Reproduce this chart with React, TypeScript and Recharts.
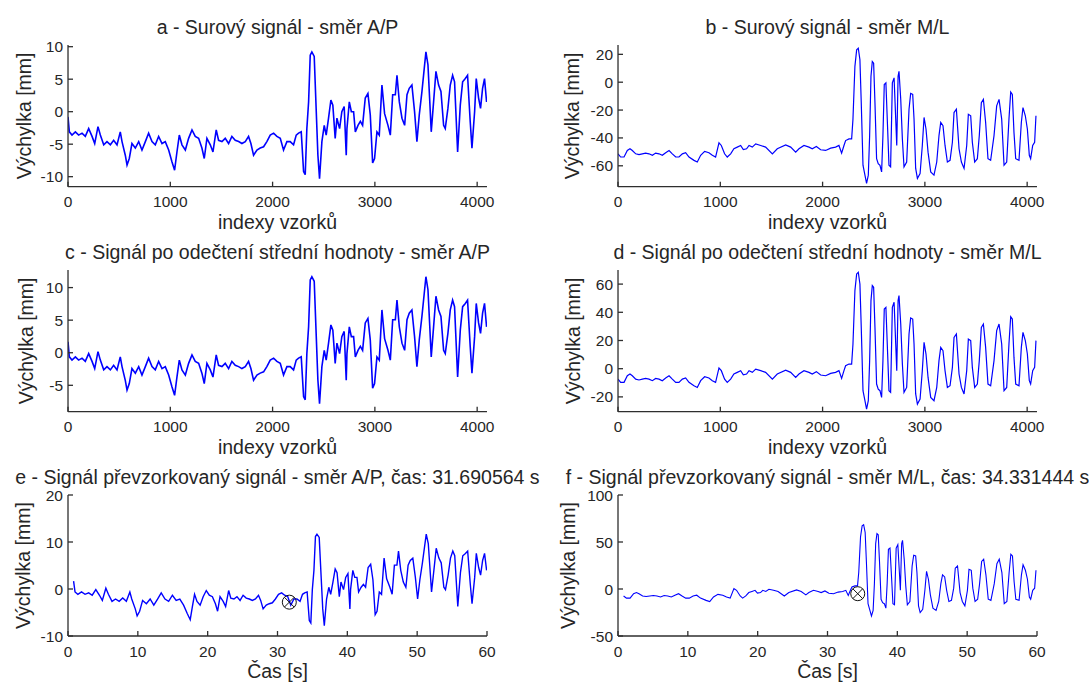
import React from 'react';
import { LineChart, Line, XAxis, YAxis, ReferenceDot } from 'recharts';

// ---- Data (sample index -> displacement, mm) ----
const AP_IDX = [
  0, 13, 39, 72, 104, 137, 169, 202, 235, 261, 293, 316, 349, 381, 414, 446, 479, 511, 528, 560,
  577, 599, 625, 658, 691, 723, 756, 788, 821, 853, 886, 919, 951, 984, 1016, 1042, 1065, 1088, 1114, 1147,
  1179, 1212, 1244, 1277, 1309, 1332, 1358, 1391, 1417, 1449, 1472, 1505, 1537, 1570, 1602, 1635, 1668, 1700, 1733, 1765,
  1788, 1814, 1847, 1879, 1912, 1944, 1977, 2010, 2042, 2075, 2107, 2140, 2172, 2205, 2231, 2254, 2280, 2303, 2319, 2335,
  2352, 2368, 2384, 2407, 2427, 2443, 2459, 2482, 2505, 2524, 2547, 2570, 2589, 2612, 2629, 2655, 2677, 2700, 2720, 2727,
  2750, 2770, 2792, 2809, 2835, 2858, 2880, 2906, 2932, 2955, 2978, 2997, 3020, 3043, 3069, 3095, 3128, 3151, 3174, 3200,
  3216, 3239, 3265, 3291, 3314, 3336, 3362, 3388, 3411, 3434, 3460, 3483, 3499, 3519, 3535, 3551, 3574, 3597, 3623, 3646,
  3672, 3688, 3714, 3737, 3760, 3779, 3796, 3809, 3835, 3858, 3884, 3906, 3932, 3949, 3975, 3991, 4014, 4033, 4053, 4072,
  4092,
];
const AP_RAW = [
  -0.8, -3.1, -3.6, -3.1, -3.6, -3.3, -3.8, -2.6, -3.8, -4.9, -2.3, -3.6, -5.1, -4.6, -5.1, -4.4, -5.1, -3.1, -4.6, -6.7,
  -8.2, -7.2, -4.9, -5.6, -4.6, -5.9, -4.6, -3.3, -4.6, -5.1, -3.8, -4.9, -4.6, -5.9, -7.7, -9.0, -6.2, -3.6, -5.1, -5.9,
  -4.1, -2.8, -3.8, -4.1, -5.6, -7.2, -4.1, -5.1, -6.2, -2.8, -4.4, -4.6, -4.1, -4.9, -3.8, -4.4, -4.6, -4.9, -4.6, -3.8,
  -4.9, -6.7, -5.9, -5.6, -5.4, -4.6, -3.6, -3.3, -3.8, -4.1, -5.9, -4.6, -4.6, -5.1, -3.6, -3.3, -3.1, -9.2, -9.7, -2.6,
  1.5, 8.7, 9.2, 8.5, 0.0, -6.7, -10.3, -4.6, -2.1, -3.6, -1.0, 1.8, 1.0, -4.1, -1.0, -2.6, 0.0, 0.8, -6.7, -2.6,
  1.5, 0.0, 0.0, -3.1, -2.1, -1.5, -2.1, 2.1, 2.8, -0.5, -7.9, -7.2, -3.1, -3.6, 4.1, -0.3, -2.1, -3.6, 2.6, 2.6,
  5.6, 1.5, -1.0, -2.1, 2.6, 3.6, 4.1, 0.0, -4.6, -0.5, 3.1, 6.7, 9.2, 7.2, 2.1, -3.1, 1.5, 6.2, 4.1, 3.1,
  -2.1, -2.6, 0.5, 4.1, 5.6, 4.6, -1.5, -6.2, 1.0, 4.6, 5.1, 5.6, -1.5, -5.6, 0.0, 5.1, 2.1, 0.5, 3.6, 5.1,
  1.5,
];

const ML_IDX = [
  0, 26, 59, 91, 117, 140, 173, 205, 238, 270, 303, 336, 368, 401, 433, 466, 499, 531, 564, 596,
  629, 661, 694, 743, 775, 808, 847, 889, 922, 954, 987, 1010, 1042, 1068, 1101, 1133, 1166, 1199, 1225, 1257,
  1281, 1313, 1346, 1395, 1443, 1509, 1557, 1639, 1688, 1737, 1769, 1818, 1867, 1899, 1939, 1981, 2030, 2079, 2127, 2160,
  2186, 2209, 2225, 2258, 2284, 2297, 2316, 2333, 2349, 2365, 2378, 2395, 2414, 2430, 2447, 2460, 2473, 2486, 2499, 2512,
  2528, 2544, 2561, 2577, 2590, 2603, 2619, 2636, 2649, 2665, 2682, 2699, 2715, 2725, 2738, 2747, 2764, 2780, 2796, 2822,
  2845, 2861, 2881, 2894, 2910, 2927, 2953, 2975, 2992, 3011, 3031, 3057, 3089, 3116, 3138, 3155, 3177, 3197, 3220, 3246,
  3269, 3285, 3308, 3334, 3357, 3383, 3409, 3425, 3448, 3464, 3487, 3513, 3532, 3552, 3572, 3594, 3617, 3643, 3676, 3702,
  3725, 3751, 3774, 3800, 3822, 3839, 3855, 3871, 3888, 3920, 3943, 3959, 3982, 4002, 4021, 4034, 4054, 4073, 4086,
];
const ML_RAW = [
  -51.4, -53.7, -53.7, -49.0, -47.8, -49.0, -51.4, -52.0, -51.4, -50.9, -51.4, -52.5, -50.9, -51.4, -52.5, -50.6, -49.0, -51.4, -53.7, -53.7,
  -51.4, -50.6, -53.7, -56.1, -57.3, -52.5, -49.7, -50.6, -52.5, -53.7, -43.5, -45.4, -51.4, -53.7, -51.4, -47.8, -46.6, -45.4, -48.3, -47.8,
  -45.4, -46.6, -44.3, -45.4, -46.6, -51.4, -47.8, -45.0, -46.6, -50.2, -47.8, -45.4, -46.6, -47.8, -46.1, -48.5, -49.0, -47.3, -46.6, -45.4,
  -50.9, -45.4, -41.9, -40.7, -40.7, -26.5, 11.4, 23.2, 24.4, 16.1, -14.7, -59.6, -66.7, -72.7, -66.7, -38.3, 4.3, 14.9, 13.7, -14.7,
  -54.9, -58.5, -59.6, -64.4, -38.3, -1.7, -0.5, -33.6, -59.6, -60.8, -0.5, 3.1, -26.5, -45.4, 4.3, 7.8, -12.3, -40.7, -60.8, -57.3,
  -19.4, -8.0, -8.8, -26.5, -61.9, -69.1, -65.6, -45.4, -25.3, -33.6, -50.2, -64.4, -66.7, -57.3, -38.3, -28.9, -31.2, -45.4, -57.3, -56.1,
  -43.1, -21.8, -19.4, -47.8, -57.3, -61.9, -45.4, -23.0, -24.1, -43.1, -57.3, -54.9, -38.3, -14.7, -12.3, -28.9, -54.9, -56.1, -38.3, -17.0,
  -12.3, -26.5, -59.6, -57.3, -26.5, -7.1, -8.8, -36.0, -54.9, -56.1, -28.9, -18.2, -24.1, -33.6, -52.5, -54.9, -45.4, -43.1, -24.1,
];

// Means removed in panels c/d (read from the offset between a->c and b->d)
const AP_MEAN = -2.47;
const ML_MEAN = -44.0;

const TIME_ANCHOR_IDX = [0, 577, 1042, 2384, 3499, 4096];
const TIME_ANCHOR_S = [0.8, 9.9, 17.5, 35.65, 51.3, 60];

// Markers in panels e/f
const E_MARK = { t: 31.690564, v: -2.8 };
const F_MARK = { t: 34.331444, v: -5 };

// Ticks
const IDX_TICKS = [0, 1000, 2000, 3000, 4000];
const TIME_TICKS = [0, 10, 20, 30, 40, 50, 60];
const A_TICKS = [-10, -5, 0, 5, 10];
const B_TICKS = [-60, -40, -20, 0, 20];
const C_TICKS = [-5, 0, 5, 10];
const D_TICKS = [-20, 0, 20, 40, 60];
const E_TICKS = [-10, 0, 10, 20];
const F_TICKS = [-50, 0, 50, 100];

const TITLES = [
  'a - Surový signál - směr A/P',
  'b - Surový signál - směr M/L',
  'c - Signál po odečtení střední hodnoty - směr A/P',
  'd - Signál po odečtení střední hodnoty - směr M/L',
  'e - Signál převzorkovaný signál - směr A/P, čas: 31.690564 s',
  'f - Signál převzorkovaný signál - směr M/L, čas: 34.331444 s',
];
const Y_LABEL = 'Výchylka [mm]';
const X_LABEL_IDX = 'indexy vzorků';
const X_LABEL_TIME = 'Čas [s]';

// ---- helpers ----
function idxToTime(i: number): number {
  for (let k = 0; k < TIME_ANCHOR_IDX.length - 1; k++) {
    const a = TIME_ANCHOR_IDX[k], b = TIME_ANCHOR_IDX[k + 1];
    if (i <= b || k === TIME_ANCHOR_IDX.length - 2) {
      const f = (i - a) / (b - a);
      return TIME_ANCHOR_S[k] + f * (TIME_ANCHOR_S[k + 1] - TIME_ANCHOR_S[k]);
    }
  }
  return TIME_ANCHOR_S[TIME_ANCHOR_S.length - 1];
}

const aData = AP_IDX.map((x, i) => ({ x, y: AP_RAW[i] }));
const bData = ML_IDX.map((x, i) => ({ x, y: ML_RAW[i] }));
const cData = AP_IDX.map((x, i) => ({ x, y: AP_RAW[i] - AP_MEAN }));
const dData = ML_IDX.map((x, i) => ({ x, y: ML_RAW[i] - ML_MEAN }));
const eData = AP_IDX.map((x, i) => ({ x: idxToTime(x), y: AP_RAW[i] - AP_MEAN }));
const fData = ML_IDX.map((x, i) => ({ x: idxToTime(x), y: ML_RAW[i] - ML_MEAN }));

const FONT = "'Liberation Sans', Arial, Helvetica, sans-serif";
const TEXT = '#262626';
const AXIS = '#2e2e2e';
const PLOT_W = 419;
const COL_L = [68, 618];
const ROW_T = [45, 270, 495];
const ROW_H = [141.7, 141.7, 141];

function MarkerShape(props: any) {
  const { cx, cy } = props;
  const r = 7;
  const d = r * 0.7071;
  return (
    <g>
      <circle cx={cx} cy={cy} r={r} fill="none" stroke="#111" strokeWidth={1} />
      <line x1={cx - d} y1={cy - d} x2={cx + d} y2={cy + d} stroke="#111" strokeWidth={1} />
      <line x1={cx - d} y1={cy + d} x2={cx + d} y2={cy - d} stroke="#111" strokeWidth={1} />
    </g>
  );
}

type PanelProps = {
  left: number;
  top: number;
  h: number;
  data: { x: number; y: number }[];
  xDomain: [number, number];
  xTicks: number[];
  yDomain: [number, number];
  yTicks: number[];
  sw: number;
  marker?: { t: number; v: number };
};

function Panel({ left, top, h, data, xDomain, xTicks, yDomain, yTicks, sw, marker }: PanelProps) {
  const ML = 60, MT = 10, MR = 10, MB = 40;
  const tickStyle = { fontSize: 15.5, fill: TEXT, fontFamily: FONT };
  return (
    <div style={{ position: 'absolute', left: left - ML, top: top - MT }}>
      <LineChart
        width={PLOT_W + ML + MR}
        height={h + MT + MB}
        data={data}
        margin={{ top: MT, right: MR, bottom: 0, left: 0 }}
      >
        <XAxis
          type="number"
          dataKey="x"
          domain={xDomain}
          ticks={xTicks}
          allowDataOverflow
          interval={0}
          height={MB}
          tickSize={-5}
          tickMargin={14.5}
          stroke={AXIS}
          strokeWidth={1.3}
          tick={tickStyle}
        />
        <XAxis
          xAxisId="top"
          orientation="top"
          type="number"
          dataKey="x"
          domain={xDomain}
          ticks={xTicks}
          allowDataOverflow
          interval={0}
          height={0}
          tickSize={-5}
          tick={false}
          stroke={AXIS}
          strokeWidth={1.3}
        />
        <YAxis
          type="number"
          domain={yDomain}
          ticks={yTicks}
          allowDataOverflow
          interval={0}
          width={ML}
          tickSize={-5}
          tickMargin={10}
          stroke={AXIS}
          strokeWidth={1.3}
          tick={tickStyle}
        />
        <YAxis
          yAxisId="right"
          orientation="right"
          type="number"
          domain={yDomain}
          ticks={yTicks}
          allowDataOverflow
          interval={0}
          width={0}
          tickSize={-5}
          tick={false}
          stroke={AXIS}
          strokeWidth={1.3}
        />
        <Line
          type="linear"
          dataKey="y"
          stroke="#0000ff"
          strokeWidth={sw}
          dot={false}
          isAnimationActive={false}
        />
        {marker && (
          <ReferenceDot x={marker.t} y={marker.v} r={7} shape={MarkerShape} ifOverflow="visible" />
        )}
      </LineChart>
    </div>
  );
}

export default function App() {
  const cx = [COL_L[0] + PLOT_W / 2, COL_L[1] + PLOT_W / 2];
  const titleBase = ROW_T.map((t) => t - 11.5);
  const xLabelBase = ROW_T.map((t, i) => t + ROW_H[i] + 42.3);
  const yLabelX = [
    [23.5, 572],
    [26, 573.3],
    [23.3, 567.5],
  ];
  const txt = { fontFamily: FONT, fill: TEXT, fontSize: 19.5 } as const;
  return (
    <div
      style={{
        position: 'absolute',
        left: 0,
        top: 0,
        width: 1089,
        height: 684,
        background: '#ffffff',
        fontFamily: FONT,
      }}
    >
      <Panel left={COL_L[0]} top={ROW_T[0]} h={ROW_H[0]} data={aData} xDomain={[0, 4096]} xTicks={IDX_TICKS} yDomain={[-11.54, 10.26]} yTicks={A_TICKS} sw={1.6} />
      <Panel left={COL_L[1]} top={ROW_T[0]} h={ROW_H[0]} data={bData} xDomain={[0, 4096]} xTicks={IDX_TICKS} yDomain={[-75, 26.7]} yTicks={B_TICKS} sw={1.2} />
      <Panel left={COL_L[0]} top={ROW_T[1]} h={ROW_H[1]} data={cData} xDomain={[0, 4096]} xTicks={IDX_TICKS} yDomain={[-9.05, 12.7]} yTicks={C_TICKS} sw={1.6} />
      <Panel left={COL_L[1]} top={ROW_T[1]} h={ROW_H[1]} data={dData} xDomain={[0, 4096]} xTicks={IDX_TICKS} yDomain={[-30.5, 70]} yTicks={D_TICKS} sw={1.2} />
      <Panel left={COL_L[0]} top={ROW_T[2]} h={ROW_H[2]} data={eData} xDomain={[0, 60]} xTicks={TIME_TICKS} yDomain={[-10, 20]} yTicks={E_TICKS} sw={1.4} marker={E_MARK} />
      <Panel left={COL_L[1]} top={ROW_T[2]} h={ROW_H[2]} data={fData} xDomain={[0, 60]} xTicks={TIME_TICKS} yDomain={[-50, 100]} yTicks={F_TICKS} sw={1.1} marker={F_MARK} />
      <svg
        width={1089}
        height={684}
        style={{ position: 'absolute', left: 0, top: 0, pointerEvents: 'none' }}
      >
        {[0, 1, 2].map((r) =>
          [0, 1].map((c) => (
            <g key={`${r}-${c}`}>
              <text x={cx[c]} y={titleBase[r]} textAnchor="middle" {...txt}>
                {TITLES[r * 2 + c]}
              </text>
              <text x={cx[c]} y={xLabelBase[r]} textAnchor="middle" {...txt}>
                {r < 2 ? X_LABEL_IDX : X_LABEL_TIME}
              </text>
              <text
                transform={`translate(${yLabelX[r][c]}, ${ROW_T[r] + ROW_H[r] / 2}) rotate(-90)`}
                textAnchor="middle"
                dominantBaseline="central"
                {...txt}
              >
                {Y_LABEL}
              </text>
            </g>
          ))
        )}
      </svg>
    </div>
  );
}
